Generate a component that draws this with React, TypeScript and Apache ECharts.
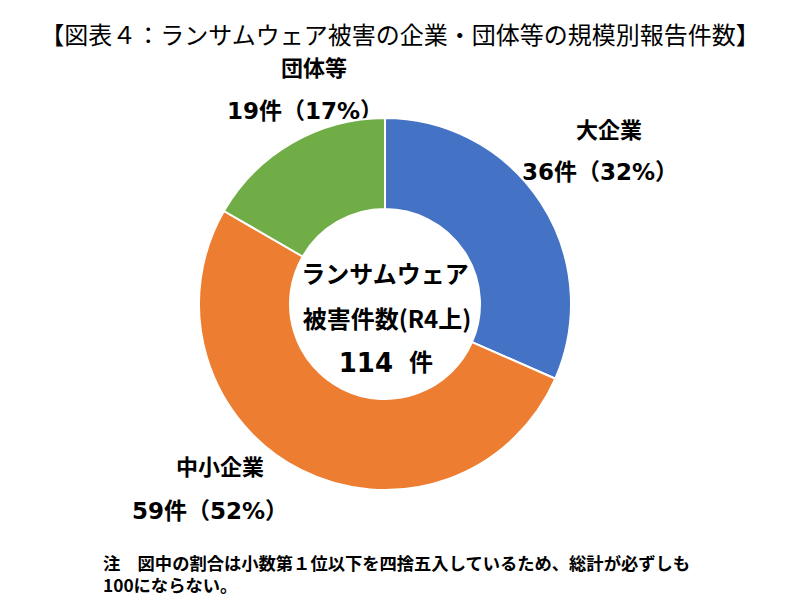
import React, { useEffect, useRef } from "react";
import * as echarts from "echarts";

const titleText = "【図表４：ランサムウェア被害の企業・団体等の規模別報告件数】";
const categories = ["大企業", "中小企業", "団体等"];
const values = [36, 59, 19];
const colors = ["#4472C4", "#ED7D31", "#70AD47"];
const centerLines = ["ランサムウェア", "被害件数(R4上)"];
const unit = "件";
const noteLines = [
  "注　図中の割合は小数第１位以下を四捨五入しているため、総計が必ずしも",
  "100にならない。",
];
// label anchor positions (layout only)
const namePos = [
  [609, 128],
  [220, 465],
  [314, 66],
];
const valuePos = [
  [600, 172],
  [210, 511],
  [305, 111],
];

const FONT = '"Noto Sans CJK JP", "Noto Sans", sans-serif';
const NUMFONT = '"DejaVu Sans", "Noto Sans CJK JP", sans-serif';

export default function App() {
  const ref = useRef<HTMLDivElement>(null);
  useEffect(() => {
    if (!ref.current) return;
    const chart = echarts.init(ref.current, null, { renderer: "svg" });
    const total = values.reduce((a, b) => a + b, 0);
    const labelGraphics: any[] = [];
    categories.forEach((c, i) => {
      const pct = Math.round((values[i] / total) * 100);
      labelGraphics.push({
        type: "text",
        x: namePos[i][0],
        y: namePos[i][1],
        style: { text: c, font: "bold 22px " + FONT, fill: "#000", align: "center", verticalAlign: "middle" },
      });
      labelGraphics.push({
        type: "text",
        x: valuePos[i][0],
        y: valuePos[i][1],
        style: {
          text: values[i] + "件（" + pct + "%）",
          font: "bold 23px " + NUMFONT,
          fill: "#000",
          align: "center",
          verticalAlign: "middle",
        },
      });
    });
    chart.setOption({
      animation: false,
      backgroundColor: "#ffffff",
      title: {
        text: titleText,
        left: "center",
        top: 16,
        textStyle: { fontFamily: FONT, fontSize: 24, fontWeight: "normal", color: "#000" },
      },
      graphic: [
        ...labelGraphics,
        {
          type: "text",
          x: 385,
          y: 272,
          style: { text: centerLines[0], font: "bold 24px " + FONT, fill: "#000", align: "center", verticalAlign: "middle" },
        },
        {
          type: "text",
          x: 387,
          y: 317,
          style: { text: centerLines[1], font: "bold 24px " + FONT, fill: "#000", align: "center", verticalAlign: "middle" },
        },
        {
          type: "text",
          x: 393,
          y: 363,
          style: { text: String(total), font: "bold 26px " + NUMFONT, fill: "#000", align: "right", verticalAlign: "middle" },
        },
        {
          type: "text",
          x: 409,
          y: 363,
          style: { text: unit, font: "bold 24px " + NUMFONT, fill: "#000", align: "left", verticalAlign: "middle" },
        },
        {
          type: "text",
          x: 103,
          y: 562,
          style: { text: noteLines[0], font: "bold 17.3px " + FONT, fill: "#000", verticalAlign: "middle", lineHeight: 18 },
        },
        {
          type: "text",
          x: 103,
          y: 584,
          style: { text: noteLines[1], font: "bold 17.3px " + FONT, fill: "#000", verticalAlign: "middle", lineHeight: 18 },
        },
      ],
      series: [
        {
          type: "pie",
          center: [385, 304],
          radius: [95, 186],
          startAngle: 90,
          clockwise: true,
          label: { show: false },
          labelLine: { show: false },
          itemStyle: { borderColor: "#ffffff", borderWidth: 2 },
          emphasis: { disabled: true },
          data: categories.map((c, i) => ({ name: c, value: values[i], itemStyle: { color: colors[i] } })),
        },
      ],
    });
    return () => chart.dispose();
  }, []);
  return <div ref={ref} style={{ position: "absolute", left: 0, top: 0, width: 800, height: 611 }} />;
}
